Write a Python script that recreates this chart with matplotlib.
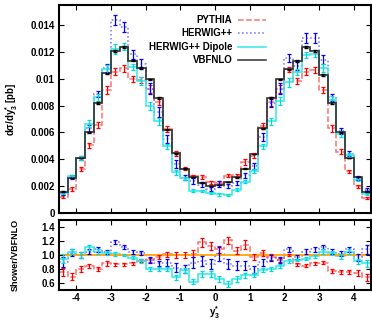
import numpy as np
import matplotlib
matplotlib.use("Agg")
import matplotlib.pyplot as plt

plt.rcParams['font.family'] = ['Liberation Sans', 'DejaVu Sans']
plt.rcParams['font.weight'] = 'bold'
plt.rcParams['mathtext.fontset'] = 'custom'
plt.rcParams['mathtext.rm'] = 'Liberation Sans:bold'
plt.rcParams['mathtext.it'] = 'Liberation Sans:bold'
plt.rcParams['mathtext.bf'] = 'Liberation Sans:bold'

# 36 bins of width 0.25 in y*_3
edges = np.linspace(-4.5, 4.5, 37)
centers = 0.5 * (edges[:-1] + edges[1:])

vbfnlo = [0.0016, 0.0026, 0.0041, 0.0060, 0.0082, 0.0104, 0.0121, 0.0124, 0.01136,
          0.0108, 0.00996, 0.00856, 0.0062, 0.00445, 0.0033, 0.00267, 0.00227, 0.00203,
          0.0021, 0.0023, 0.00265, 0.0033, 0.0044, 0.0063, 0.00856, 0.00996, 0.0107,
          0.0113, 0.0124, 0.0121, 0.0103, 0.0082, 0.0060, 0.0041, 0.0027, 0.0016]

# shower / VBFNLO ratios
pythia_r = [0.76, 0.69, 0.80, 0.84, 0.80, 0.88, 0.87, 0.87, 0.88, 0.92, 0.93, 0.97,
            1.01, 1.00, 1.00, 1.02, 1.18, 1.13, 1.08, 1.21, 1.06, 1.15, 0.97, 1.03,
            0.97, 0.93, 1.00, 0.87, 0.85, 0.88, 0.89, 0.77, 0.76, 0.76, 0.74, 0.68]
herwig_r = [0.90, 1.03, 1.00, 1.05, 1.08, 1.04, 1.19, 1.12, 1.04, 1.03, 0.93, 0.88,
            0.89, 0.82, 0.80, 0.89, 0.91, 0.87, 1.02, 0.87, 0.85, 0.85, 0.80, 0.90,
            0.96, 0.93, 1.08, 0.97, 1.05, 1.08, 1.11, 1.05, 1.02, 1.08, 0.97, 1.08]
dipole_r = [0.95, 1.05, 1.00, 1.11, 1.05, 1.03, 1.01, 1.00, 0.96, 0.91, 0.80, 0.80,
            0.80, 0.68, 0.78, 0.62, 0.73, 0.73, 0.66, 0.59, 0.66, 0.71, 0.71, 0.79,
            0.80, 0.84, 0.91, 0.93, 0.95, 0.98, 1.05, 1.03, 0.98, 1.05, 0.91, 0.88]

# ratio uncertainties
pythia_e = [0.06, 0.05, 0.04, 0.03, 0.03, 0.03, 0.02, 0.02, 0.02, 0.02, 0.03, 0.03,
            0.04, 0.04, 0.04, 0.05, 0.06, 0.06, 0.05, 0.05, 0.05, 0.06, 0.04, 0.04,
            0.04, 0.03, 0.02, 0.02, 0.02, 0.02, 0.02, 0.03, 0.03, 0.03, 0.04, 0.05]
herwig_e = [0.07, 0.05, 0.04, 0.04, 0.03, 0.03, 0.03, 0.03, 0.03, 0.03, 0.04, 0.04,
            0.05, 0.06, 0.06, 0.08, 0.07, 0.07, 0.10, 0.07, 0.06, 0.06, 0.05, 0.05,
            0.04, 0.04, 0.03, 0.03, 0.03, 0.03, 0.03, 0.03, 0.04, 0.04, 0.05, 0.07]
dipole_e = [0.06, 0.04, 0.04, 0.04, 0.03, 0.03, 0.03, 0.02, 0.02, 0.03, 0.03, 0.03,
            0.03, 0.04, 0.04, 0.04, 0.04, 0.04, 0.04, 0.04, 0.04, 0.04, 0.03, 0.03,
            0.03, 0.03, 0.03, 0.02, 0.02, 0.02, 0.03, 0.03, 0.03, 0.04, 0.04, 0.05]
vbfnlo_e = 0.006

labels = ["PYTHIA", "HERWIG++", "HERWIG++ Dipole", "VBFNLO"]
step_col = ['#ff7070', '#7070ff', '#30e8e8', '#303030']
bar_col = ['#ff0000', '#0000ff', '#00dada', '#000000']
styles = ['--', ':', '-', '-']

vbf = np.array(vbfnlo)
ratios = [np.array(pythia_r), np.array(herwig_r), np.array(dipole_r)]
errs = [np.array(pythia_e), np.array(herwig_e), np.array(dipole_e)]

fig = plt.figure(figsize=(3.72, 3.2), dpi=100)
ax1 = fig.add_axes([59/372, 1-213/320, 312/372, 208/320])
ax2 = fig.add_axes([59/372, 1-290/320, 312/372, 70/320])

for i in range(3):
    vals = ratios[i] * vbf
    ax1.stairs(vals, edges, color=step_col[i], ls=styles[i], lw=1.1, baseline=None)
    ax1.errorbar(centers, vals, yerr=errs[i] * vbf, fmt='none', ecolor=bar_col[i],
                 elinewidth=0.9, capsize=1.6, capthick=0.9)
    ax2.stairs(ratios[i], edges, color=step_col[i], ls=styles[i], lw=1.1, baseline=None)
    ax2.errorbar(centers, ratios[i], yerr=errs[i], fmt='none', ecolor=bar_col[i],
                 elinewidth=0.9, capsize=1.6, capthick=0.9)

ax1.stairs(vbf, edges, color=step_col[3], lw=1.2, baseline=None)
ax1.errorbar(centers, vbf, yerr=vbfnlo_e * vbf, fmt='none', ecolor='k',
             elinewidth=1.2, capsize=1.2)
ax2.axhline(1.0, color='#ffa500', lw=1.3, zorder=1)

# legend, gnuplot style: right-aligned text, sample line on the right
for i, lab in enumerate(labels):
    yy = 0.928 - 0.064 * i
    ax1.text(0.556, yy, lab, transform=ax1.transAxes, ha='right', va='center',
             fontsize=7, fontweight='bold')
    ax1.plot([0.575, 0.665], [yy, yy], transform=ax1.transAxes, color=step_col[i],
             ls=styles[i], lw=1.1)

ax1.set_xlim(-4.5, 4.5)
ax1.set_ylim(0, 0.0155)
ax1.set_yticks([0, 0.002, 0.004, 0.006, 0.008, 0.01, 0.012, 0.014])
ax1.set_yticklabels(['0', '0.002', '0.004', '0.006', '0.008', '0.01', '0.012', '0.014'])
ax1.set_xticks(range(-4, 5))
ax1.set_xticklabels([])
ax1.set_ylabel('d\u03c3/dy$^{*}_{3}$ [pb]', fontsize=7, fontweight='bold')
ax1.yaxis.set_label_coords(-0.125, 0.5)

ax2.set_xlim(-4.5, 4.5)
ax2.set_ylim(0.5, 1.5)
ax2.set_yticks([0.6, 0.8, 1.0, 1.2, 1.4])
ax2.set_yticklabels(['0.6', '0.8', '1.0', '1.2', '1.4'])
ax2.set_xticks(range(-4, 5))
ax2.set_xticklabels([str(v) for v in range(-4, 5)])
ax2.set_ylabel('Shower/VBFNLO', fontsize=6.5, fontweight='bold')
ax2.yaxis.set_label_coords(-0.125, 0.5)
ax2.set_xlabel('y$^{*}_{3}$', fontsize=7, fontweight='bold')
ax2.xaxis.set_label_coords(0.5, -0.205)

for ax in (ax1, ax2):
    for s in ax.spines.values():
        s.set_linewidth(1.5)
    ax.tick_params(direction='in', top=True, right=True, length=3.5, width=0.8,
                   labelsize=7, pad=3)
ax2.tick_params(axis='x', pad=2.5)

fig.savefig('out.png', dpi=100)
